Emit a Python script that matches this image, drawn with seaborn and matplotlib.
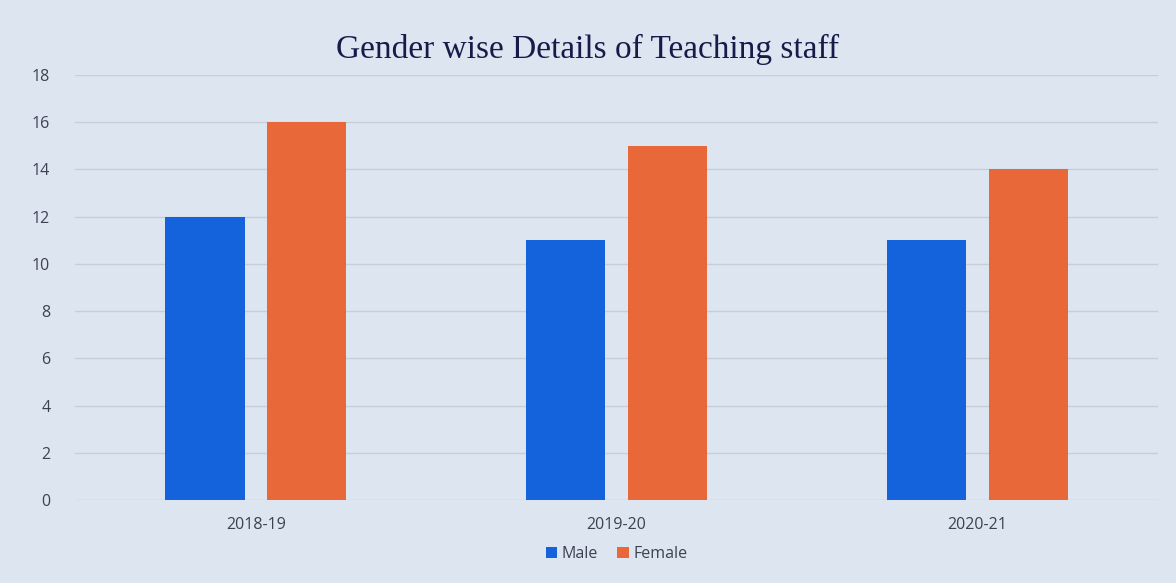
import matplotlib
matplotlib.use("Agg")
import matplotlib.pyplot as plt
import seaborn as sns
import pandas as pd

years = ["2018-19", "2019-20", "2020-21"]
male = [12, 11, 11]
female = [16, 15, 14]
series = ["Male", "Female"]
colors = {"Male": "#1463dc", "Female": "#e8683a"}

df = pd.DataFrame({
    "Year": years * 2,
    "Count": male + female,
    "Gender": ["Male"] * len(years) + ["Female"] * len(years),
})

sns.set_theme(style="white")
plt.rcParams["font.family"] = ["Open Sans", "DejaVu Sans"]

bg = "#dde5f0"
fig = plt.figure(figsize=(11.76, 5.83), dpi=100, facecolor=bg)
ax = fig.add_axes([0.064, 0.1424, 0.9207, 0.729])
ax.set_facecolor(bg)

sns.barplot(data=df, x="Year", y="Count", hue="Gender", hue_order=series,
            palette=colors, width=0.565, gap=0.22, ax=ax, legend=True,
            saturation=1, linewidth=0, edgecolor="none")

ax.set_ylim(0, 18)
ax.set_yticks(range(0, 19, 2))
ax.set_xlim(-0.5, 2.5)
ax.yaxis.grid(True, color="#c8ced8", linewidth=1)
ax.set_axisbelow(True)
for s in ax.spines.values():
    s.set_visible(False)
ax.set_xlabel("")
ax.set_ylabel("")
ax.tick_params(axis="both", length=0, labelsize=11.5, colors="#3c4252")
ax.tick_params(axis="y", pad=18)
ax.tick_params(axis="x", pad=12)

leg = ax.legend(loc="upper center", bbox_to_anchor=(0.5, -0.075), ncol=2,
                frameon=False, fontsize=11.5, handlelength=0.7, handleheight=0.7,
                handletextpad=0.3, columnspacing=1.2)
for t in leg.get_texts():
    t.set_color("#3c4252")

fig.text(0.5, 0.915, "Gender wise Details of Teaching staff",
         ha="center", va="center", fontsize=24, family="Liberation Serif",
         color="#151c4a")

fig.savefig("out.png", dpi=100, facecolor=bg)
